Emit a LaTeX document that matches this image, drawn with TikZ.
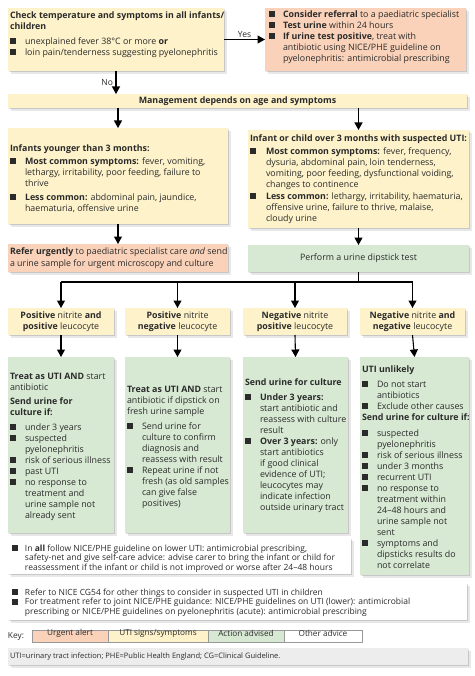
\documentclass[tikz,border=0pt]{standalone}
\usepackage{fontspec}
\setmainfont{Open Sans}
\usetikzlibrary{arrows.meta,fit,shadows}
\definecolor{yel}{HTML}{FDF2C9}
\definecolor{ora}{HTML}{F9D2B9}
\definecolor{grn}{HTML}{D7E9D3}
\definecolor{gry}{HTML}{EDEDED}
\definecolor{txt}{HTML}{2B2B2B}
\newcommand\bsq{\raisebox{0.2pt}{\rule{6pt}{6pt}}}
\newcommand\bu[1][15pt]{\makebox[#1][l]{\bsq}}
\newcommand\Hd[1]{\multicolumn{2}{@{}l@{}}{#1}}
\begin{document}
\begin{tikzpicture}[x=1pt,y=-1pt,
  box/.style={inner sep=0pt,outer sep=0pt,
    drop shadow={shadow xshift=1.2pt,shadow yshift=-1.2pt,fill=black,opacity=.14},
    drop shadow={shadow xshift=2.6pt,shadow yshift=-2.6pt,fill=black,opacity=.09}},
  tx/.style={inner sep=0pt,outer sep=0pt,anchor=north west,text=txt,
    font=\fontsize{8.85}{11}\selectfont},
  sm/.style={tx,font=\fontsize{8.5}{9.8}\selectfont},
  arr/.style={line width=1.1pt,-{Triangle[width=8pt,length=7.5pt]}},
  ln/.style={line width=1.1pt},
  key/.style={draw=black!40,line width=0.4pt,inner sep=0pt,text=txt,
    font=\fontsize{8.2}{9.8}\selectfont}]
\path[fill=white] (0,0) rectangle (474,676);
% boxes
\node[box,fill=yel,fit={(8,8)(224,71)}] (B1) {};
\node[box,fill=ora,fit={(265,8)(466,71)}] (B2) {};
\node[box,fill=yel,fit={(8,94)(467,108)}] (M) {};
\node[box,fill=yel,fit={(8,128)(228,224)}] (L) {};
\node[box,fill=yel,fit={(248,130)(469,228)}] (R) {};
\node[box,fill=ora,fit={(8,244)(228,272)}] (U) {};
\node[box,fill=grn,fit={(248,245)(469,272)}] (D) {};
\node[box,fill=yel,fit={(8,308)(114,335)}] (r1) {};
\node[box,fill=yel,fit={(125,308)(230,335)}] (r2) {};
\node[box,fill=yel,fit={(243,308)(347,335)}] (r3) {};
\node[box,fill=yel,fit={(360,308)(465,335)}] (r4) {};
\node[box,fill=grn,fit={(8,357)(114,533)}] (a1) {};
\node[box,fill=grn,fit={(125,357)(230,533)}] (a2) {};
\node[box,fill=grn,fit={(243,357)(348,533)}] (a3) {};
\node[box,fill=grn,fit={(360,357)(469,575)}] (a4) {};
\node[box,fill=white,fit={(8,538)(351,574)}] (N1) {};
\node[box,fill=white,fit={(8,583)(467,620)}] (N2) {};
\node[box,fill=gry,fit={(8,648)(468,665)}] (F) {};
% texts
\node[tx] (B1t) at (10,10.6) {\begin{tabular}{@{}l@{}l@{}}
\Hd{\textbf{Check temperature and symptoms in all infants/}}\\
\Hd{\textbf{children}}\\[4pt]
\bu & unexplained fever 38°C or more \textbf{or}\\
\bu & loin pain/tenderness suggesting pyelonephritis
\end{tabular}};
\node[tx] (B2t) at (269,9.6) {\begin{tabular}{@{}l@{}l@{}}
\bu[14pt] & \textbf{Consider referral} to a paediatric specialist\\
\bu[14pt] & \textbf{Test urine} within 24 hours\\
\bu[14pt] & \textbf{If urine test positive}, treat with\\
 & antibiotic using NICE/PHE guideline on\\
 & pyelonephritis: antimicrobial prescribing
\end{tabular}};
\node[tx,anchor=center] (Mt) at (M.center) {\textbf{Management depends on age and symptoms}};
\node[tx] (Lt) at (10,143.6) {\begin{tabular}{@{}l@{}l@{}}
\Hd{\textbf{Infants younger than 3 months:}}\\[2pt]
\bu & \textbf{Most common symptoms:} fever, vomiting,\\
 & lethargy, irritability, poor feeding, failure to\\
 & thrive\\[3pt]
\bu & \textbf{Less common:} abdominal pain, jaundice,\\
 & haematuria, offensive urine
\end{tabular}};
\node[tx] (Rt) at (250,133.6) {\begin{tabular}{@{}l@{}l@{}}
\Hd{\textbf{Infant or child over 3 months with suspected UTI:}}\\[2pt]
\bu[16pt] & \textbf{Most common symptoms:} fever, frequency,\\
 & dysuria, abdominal pain, loin tenderness,\\
 & vomiting, poor feeding, dysfunctional voiding,\\
 & changes to continence\\[1pt]
\bu[16pt] & \textbf{Less common:} lethargy, irritability, haematuria,\\
 & offensive urine, failure to thrive, malaise,\\
 & cloudy urine
\end{tabular}};
\node[tx,anchor=west] (Ut) at (10,258) {\begin{tabular}{@{}l@{}}
\textbf{Refer urgently} to paediatric specialist care \textit{and} send\\[1pt]
a urine sample for urgent microscopy and culture
\end{tabular}};
\node[tx,anchor=center] (Dt) at (D.center) {Perform a urine dipstick test};
\node[tx,anchor=center,align=center] (r1t) at (r1.center) {\textbf{Positive} nitrite \textbf{and}\\\textbf{positive} leucocyte};
\node[tx,anchor=center,align=center] (r2t) at (r2.center) {\textbf{Positive} nitrite\\\textbf{negative} leucocyte};
\node[tx,anchor=center,align=center] (r3t) at (r3.center) {\textbf{Negative} nitrite\\\textbf{positive} leucocyte};
\node[tx,anchor=center,align=center] (r4t) at (r4.center) {\textbf{Negative} nitrite \textbf{and}\\\textbf{negative} leucocyte};
\node[tx] (a1t) at (10,371.6) {\begin{tabular}{@{}l@{}l@{}}
\Hd{\textbf{Treat as UTI AND} start}\\
\Hd{antibiotic}\\[3pt]
\Hd{\textbf{Send urine for}}\\
\Hd{\textbf{culture if:}}\\[4pt]
\bu & under 3 years\\
\bu & suspected\\
 & pyelonephritis\\
\bu & risk of serious illness\\
\bu & past UTI\\
\bu & no response to\\
 & treatment and\\
 & urine sample not\\
 & already sent
\end{tabular}};
\node[tx] (a2t) at (127,384.6) {\begin{tabular}{@{}l@{}l@{}}
\Hd{\textbf{Treat as UTI AND} start}\\
\Hd{antibiotic if dipstick on}\\
\Hd{fresh urine sample}\\[4pt]
\bu & Send urine for\\
 & culture to confirm\\
 & diagnosis and\\
 & reassess with result\\
\bu & Repeat urine if not\\
 & fresh (as old samples\\
 & can give false\\
 & positives)
\end{tabular}};
\node[tx] (a3t) at (245,377.6) {\begin{tabular}{@{}l@{}l@{}}
\Hd{\textbf{Send urine for culture}}\\[4pt]
\bu & \textbf{Under 3 years:}\\
 & start antibiotic and\\
 & reassess with culture\\
 & result\\
\bu & \textbf{Over 3 years:} only\\
 & start antibiotics\\
 & if good clinical\\
 & evidence of UTI;\\
 & leucocytes may\\
 & indicate infection\\
 & outside urinary tract
\end{tabular}};
\node[tx] (a4t) at (362,364.6) {\begin{tabular}{@{}l@{}l@{}}
\Hd{\textbf{UTI unlikely}}\\[4pt]
\bu & Do not start\\
 & antibiotics\\
\bu & Exclude other causes\\
\Hd{\textbf{Send urine for culture if:}}\\[5pt]
\bu & suspected\\
 & pyelonephritis\\
\bu & risk of serious illness\\
\bu & under 3 months\\
\bu & recurrent UTI\\
\bu & no response to\\
 & treatment within\\
 & 24–48 hours and\\
 & urine sample not\\
 & sent\\
\bu & symptoms and\\
 & dipsticks results do\\
 & not correlate
\end{tabular}};
\node[sm] (N1t) at (12,544.2) {\begin{tabular}{@{}l@{}l@{}}
\bu[13pt] & In \textbf{all} follow NICE/PHE guideline on lower UTI: antimicrobial prescribing,\\
 & safety-net and give self-care advice: advise carer to bring the infant or child for\\
 & reassessment if the infant or child is not improved or worse after 24–48 hours
\end{tabular}};
\node[sm] (N2t) at (12,588.2) {\begin{tabular}{@{}l@{}l@{}}
\bu[13pt] & Refer to NICE CG54 for other things to consider in suspected UTI in children\\
\bu[13pt] & For treatment refer to joint NICE/PHE guidance: NICE/PHE guidelines on UTI (lower): antimicrobial\\
 & prescribing or NICE/PHE guidelines on pyelonephritis (acute): antimicrobial prescribing
\end{tabular}};
% key
\node[sm,anchor=west,font=\fontsize{8.3}{9.8}\selectfont] (kl) at (8,636.5) {Key:};
\node[key,fill=ora,fit={(32,630)(108,642.5)}] (k1) {Urgent alert};
\node[key,fill=yel,fit={(108,630)(208,642.5)}] (k2) {UTI signs/symptoms};
\node[key,fill=grn,fit={(208,630)(284,642.5)}] (k3) {Action advised};
\node[key,fill=white,fit={(284,630)(362,642.5)}] (k4) {Other advice};
\node[tx,anchor=west,font=\fontsize{7.5}{8}\selectfont] (Ft) at (10,656.5) {UTI=urinary tract infection; PHE=Public Health England; CG=Clinical Guideline.};
% connectors
\draw[arr] (B1.east) -- node[tx,anchor=south,yshift=2pt,font=\fontsize{8.5}{10}\selectfont] (yes) {Yes} (B2.west);
\draw[arr] (B1.south) -- node[tx,anchor=east,xshift=-3pt,font=\fontsize{8.5}{10}\selectfont] (no) {No} (B1.south |- M.north);
\draw[arr] (L.north |- M.south) -- (L.north);
\draw[arr] (R.north |- M.south) -- (R.north);
\draw[arr] (L.south) -- (U.north);
\draw[arr] (R.south) -- (D.north);
\draw[ln] (D.south) -- ++(0,10) coordinate (br);
\draw[ln] (r1.north |- br) -- (r4.north |- br);
\foreach \i in {1,2,3,4} {
  \draw[arr] (r\i.north |- br) -- (r\i.north);
  \draw[arr] (r\i.south) -- (a\i.north);
}
\end{tikzpicture}
\end{document}
